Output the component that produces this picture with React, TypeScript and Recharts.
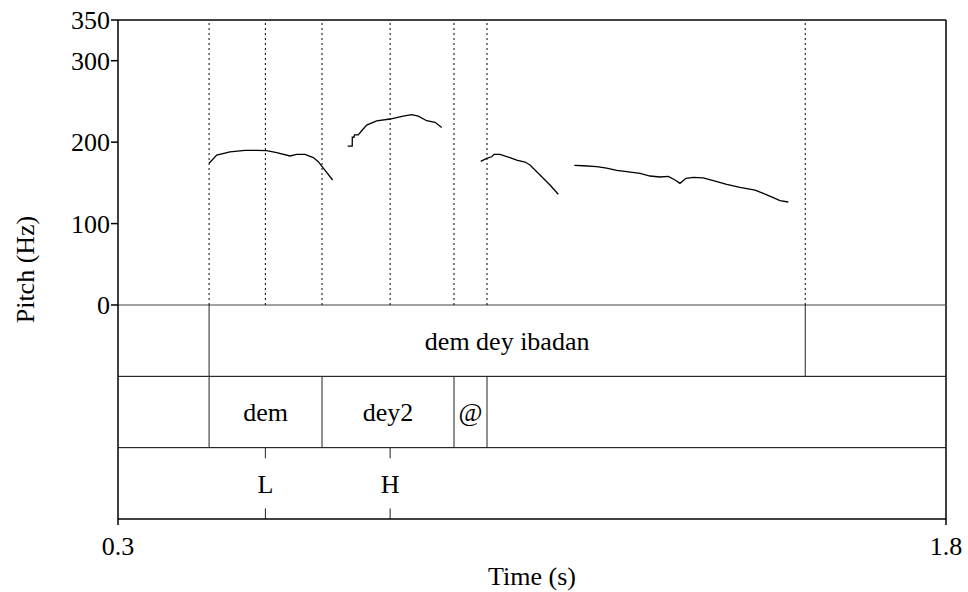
import React from "react";
import {
  ComposedChart,
  Line,
  XAxis,
  YAxis,
  ReferenceLine,
  ReferenceDot,
} from "recharts";

// pitch contour pieces: [time (s), F0 (Hz)]
const seg1: [number, number][] = [
  [0.465, 174], [0.4788, 184], [0.5029, 188], [0.5301, 190], [0.5513, 190],
  [0.5694, 189.5], [0.5875, 187], [0.6116, 183], [0.6237, 185], [0.6388, 185],
  [0.6538, 181], [0.6629, 176], [0.6719, 168], [0.6889, 153.5],
];
const seg2: [number, number][] = [
  [0.7161, 195], [0.7243, 195], [0.7245, 206], [0.7275, 206], [0.7285, 209], [0.7353, 209],
  [0.7414, 214], [0.7505, 221], [0.7686, 226], [0.7928, 228.4], [0.8168, 232],
  [0.8321, 233.7], [0.844, 232], [0.8592, 226.3], [0.8743, 224.3], [0.8864, 218],
];
const seg3: [number, number][] = [
  [0.9571, 176.4], [0.9679, 180], [0.977, 182], [0.9812, 185], [0.992, 185],
  [1.0101, 181], [1.0223, 178], [1.0373, 175.6], [1.0464, 172], [1.0645, 159.6],
  [1.0826, 147.4], [1.0976, 136],
];
const seg4: [number, number][] = [
  [1.1266, 171.5], [1.1429, 171], [1.1672, 170], [1.1853, 168.2], [1.2034, 165.4],
  [1.2215, 163.7], [1.2457, 161.7], [1.2638, 158.4], [1.2819, 157.2], [1.2969, 158],
  [1.3091, 153.5], [1.3181, 149.4], [1.329, 155.6], [1.3422, 156.8], [1.3603, 156],
  [1.3784, 152.7], [1.4027, 148.2], [1.4268, 144.5], [1.454, 141.2], [1.469, 137.2],
  [1.4871, 131.8], [1.4993, 128.1], [1.5143, 126.5],
];

// textgrid
const wordBounds = [0.465, 1.545];
const wordLabels = [{ t: 1.005, text: "dem dey ibadan" }];
const syllBounds = [0.465, 0.6696, 0.9087, 0.9685];
const syllLabels = [
  { t: 0.5673, text: "dem" },
  { t: 0.7892, text: "dey2" },
  { t: 0.9386, text: "@" },
];
const tones = [
  { t: 0.567, text: "L" },
  { t: 0.793, text: "H" },
];
const dottedTimes = [0.465, 0.567, 0.6696, 0.793, 0.9087, 0.9685, 1.545];

const yTicks = [0, 100, 200, 300, 350];
const xTicks = [0.3, 1.8];

// tier layout in Hz units below 0
const TIER = 87.6;
const Y_MIN = -3 * TIER;
const FONT = "'Liberation Serif', 'Times New Roman', serif";
const INK = "#000";

const toRows = (s: [number, number][]) => s.map(([t, f]) => ({ t, f }));

const YTitle = (props: any) => {
  const vb = props.viewBox || { y: 20, height: 499 };
  const cx = 25;
  const cy = vb.y + vb.height / 2;
  return (
    <text
      x={cx}
      y={cy}
      transform={`rotate(-90 ${cx} ${cy})`}
      textAnchor="middle"
      dominantBaseline="central"
      fontSize={26}
      fontFamily={FONT}
      fill={INK}
    >
      Pitch (Hz)
    </text>
  );
};

const XTitle = (props: any) => {
  const vb = props.viewBox || { x: 118, width: 828, y: 519 };
  return (
    <text
      x={vb.x + vb.width / 2}
      y={585}
      textAnchor="middle"
      fontSize={26}
      fontFamily={FONT}
      fill={INK}
    >
      Time (s)
    </text>
  );
};

const tierText = (t: number, y: number, text: string) => (
  <ReferenceDot
    key={`${text}-${t}`}
    x={t}
    y={y}
    r={0}
    fill="none"
    stroke="none"
    label={{ value: text, position: "center", fontSize: 26, fontFamily: FONT, fill: INK }}
  />
);

export default function App() {
  return (
    <div style={{ position: "absolute", left: 0, top: 0, width: 968, height: 592, background: "#fff" }}>
      <ComposedChart width={968} height={592} margin={{ top: 20, right: 22, bottom: 0, left: 0 }}>
        <XAxis
          type="number"
          dataKey="t"
          domain={[0.3, 1.8]}
          ticks={xTicks}
          allowDataOverflow
          tickFormatter={(v: number) => v.toFixed(1)}
          height={73}
          tickSize={6}
          tickMargin={12}
          stroke={INK}
          strokeWidth={1.5}
          tick={{ fill: INK, fontSize: 26, fontFamily: FONT }}
          label={<XTitle />}
        />
        <YAxis
          type="number"
          domain={[Y_MIN, 350]}
          ticks={yTicks}
          allowDataOverflow
          width={118}
          tickSize={7}
          tickMargin={1}
          stroke={INK}
          strokeWidth={1.5}
          tick={{ fill: INK, fontSize: 26, fontFamily: FONT }}
          label={<YTitle />}
        />

        {/* frame */}
        <ReferenceLine y={350} stroke={INK} strokeWidth={1.5} />
        <ReferenceLine x={1.8} stroke={INK} strokeWidth={1.5} />

        {/* tier separators */}
        <ReferenceLine y={0} stroke="#444" strokeWidth={1} />
        <ReferenceLine y={-TIER} stroke={INK} strokeWidth={1} />
        <ReferenceLine y={-2 * TIER} stroke={INK} strokeWidth={1} />

        {/* dotted boundary lines in the pitch area */}
        {dottedTimes.map((t) => (
          <ReferenceLine
            key={`d-${t}`}
            segment={[{ x: t, y: 0 }, { x: t, y: 350 }]}
            stroke={INK}
            strokeWidth={1}
            strokeDasharray="2 3"
          />
        ))}

        {/* tier 1 */}
        {wordBounds.map((t) => (
          <ReferenceLine key={`w-${t}`} segment={[{ x: t, y: 0 }, { x: t, y: -TIER }]} stroke="#222" strokeWidth={1} />
        ))}
        {wordLabels.map((l) => tierText(l.t, -TIER / 2, l.text))}

        {/* tier 2 */}
        {syllBounds.map((t) => (
          <ReferenceLine key={`s-${t}`} segment={[{ x: t, y: -TIER }, { x: t, y: -2 * TIER }]} stroke="#222" strokeWidth={1} />
        ))}
        {syllLabels.map((l) => tierText(l.t, -1.5 * TIER, l.text))}

        {/* tier 3 (point tier) */}
        {tones.map((p) => (
          <ReferenceLine key={`pt-${p.t}`} segment={[{ x: p.t, y: -2 * TIER }, { x: p.t, y: -2 * TIER - 13 }]} stroke="#222" strokeWidth={1} />
        ))}
        {tones.map((p) => (
          <ReferenceLine key={`pb-${p.t}`} segment={[{ x: p.t, y: Y_MIN + 13 }, { x: p.t, y: Y_MIN }]} stroke="#222" strokeWidth={1} />
        ))}
        {tones.map((p) => tierText(p.t, -2.5 * TIER, p.text))}

        {[seg1, seg2, seg3, seg4].map((s, i) => (
          <Line
            key={`seg-${i}`}
            data={toRows(s)}
            dataKey="f"
            type="linear"
            stroke={INK}
            strokeWidth={1.3}
            dot={false}
            activeDot={false}
            isAnimationActive={false}
          />
        ))}
      </ComposedChart>
    </div>
  );
}
